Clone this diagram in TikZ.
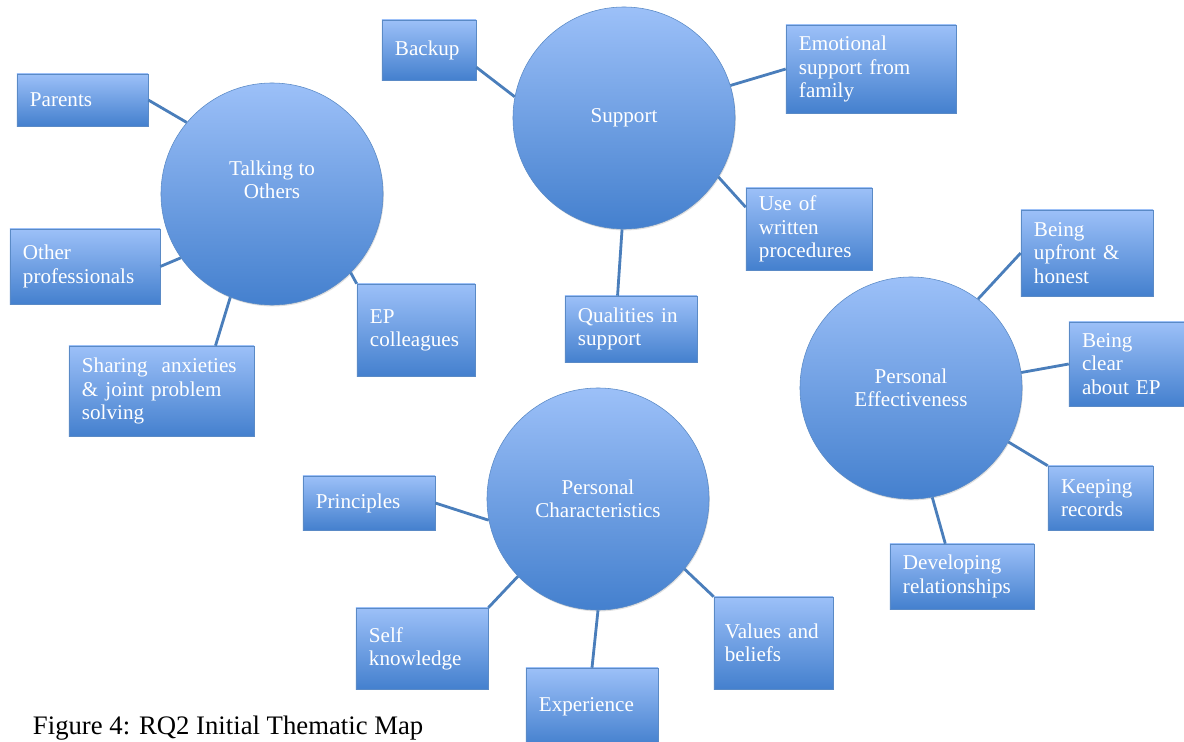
\documentclass[tikz,border=0pt]{standalone}
\usepackage{fontspec}
\setmainfont{Liberation Serif}
\usetikzlibrary{shadows}
\definecolor{mapline}{HTML}{4A7EBB}
\definecolor{shadetop}{HTML}{9CC0F8}
\definecolor{shadebot}{HTML}{4480CE}
\definecolor{rim}{HTML}{5A8AC6}

\begin{document}
\begin{tikzpicture}[x=0.025cm, y=-0.025cm]
\tikzset{edge/.style = {-, line width=2pt, draw=mapline}}
\tikzset{theme/.style = {shape=circle, draw=rim, top color=shadetop, bottom color=shadebot, minimum size=5.55cm, inner sep=0pt, text=white, align=center, font=\fontsize{15}{16.5}\selectfont, drop shadow={opacity=0.25, shadow xshift=0.6pt, shadow yshift=-1pt}}}
\tikzset{subtheme/.style = {shape=rectangle, draw=rim, top color=shadetop, bottom color=shadebot, inner xsep=0.325cm, inner ysep=0pt, text=white, align=left, font=\fontsize{15}{16.5}\selectfont, drop shadow={opacity=0.25, shadow xshift=0.6pt, shadow yshift=-1pt}}}
\useasboundingbox (0,0) rectangle (1184,742);
% themes
\node[theme](talking) at (272,194) {Talking to\\Others\\[4pt]\mbox{}};
\node[theme](support) at (624,118) {Support};
\node[theme](effective) at (911,388) {Personal\\Effectiveness};
\node[theme](character) at (598,499) {Personal\\Characteristics};
% sub-themes
\node[subtheme, minimum width=3.275cm, minimum height=1.3cm, text width=2.625cm](parents) at (82.5,100) {Parents};
\node[subtheme, minimum width=3.75cm, minimum height=1.875cm, text width=3.1cm](otherprof) at (85,266.5) {Other\\professionals};
\node[subtheme, minimum width=4.625cm, minimum height=2.25cm, text width=3.975cm](sharing) at (161.5,391) {Sharing~~anxieties\\\& joint problem\\solving};
\node[subtheme, minimum width=2.95cm, minimum height=2.3cm, text width=2.3cm](epcoll) at (416,330) {EP\\colleagues};
\node[subtheme, minimum width=2.35cm, minimum height=1.5cm, text width=1.7cm](backup) at (429,50) {Backup};
\node[subtheme, minimum width=4.25cm, minimum height=2.2cm, text width=3.6cm](emotional) at (871,69) {Emotional\\support from\\family};
\node[subtheme, minimum width=3.15cm, minimum height=2.05cm, text width=2.5cm](written) at (809,229) {Use of\\written\\procedures};
\node[subtheme, minimum width=3.3cm, minimum height=1.65cm, text width=2.65cm](qualities) at (631,329) {Qualities in\\support};
\node[subtheme, minimum width=3.3cm, minimum height=2.15cm, text width=2.65cm](upfront) at (1087,253) {Being\\upfront \&\\honest};
\node[subtheme, minimum width=3.025cm, minimum height=2.1cm, text width=2.375cm](clear) at (1129.5,364) {Being\\clear\\about EP};
\node[subtheme, minimum width=2.625cm, minimum height=1.6cm, text width=1.975cm](keeping) at (1100.5,498) {Keeping\\records};
\node[subtheme, minimum width=3.6cm, minimum height=1.625cm, text width=2.95cm](developing) at (962,576.5) {Developing\\relationships};
\node[subtheme, minimum width=3.3cm, minimum height=1.35cm, text width=2.65cm](principles) at (369,503) {Principles};
\node[subtheme, minimum width=3.3cm, minimum height=2.025cm, text width=2.65cm](selfknow) at (422,648.5) {Self\\knowledge};
\node[subtheme, minimum width=3.3cm, minimum height=1.95cm, text width=2.65cm](experience) at (592,707) {Experience};
\node[subtheme, inner xsep=0.27cm, minimum width=2.975cm, minimum height=2.3cm, text width=2.43cm](values) at (773.5,643) {Values and\\beliefs};
% caption
\node[anchor=base west, font=\fontsize{19}{22}\selectfont](caption) at (28,734) {Figure 4: RQ2 Initial Thematic Map};
% links
\draw[edge] (parents.east) to (talking.140);
\draw[edge] (otherprof.east) to (talking.215);
\draw[edge] (sharing.40) to (talking.248);
\draw[edge] (epcoll.north west) to (talking.315);
\draw[edge] (backup.340) to (support.169);
\draw[edge] (emotional.west) to (support.17);
\draw[edge] (written.161) to (support.328);
\draw[edge] (qualities.112) to (support.269);
\draw[edge] (upfront.west) to (effective.53);
\draw[edge] (clear.west) to (effective.8);
\draw[edge] (keeping.north west) to (effective.331);
\draw[edge] (developing.117) to (effective.281);
\draw[edge] (principles.east) to (character.191);
\draw[edge] (selfknow.north east) to (character.224);
\draw[edge] (experience.north) to (character.270);
\draw[edge] (values.north west) to (character.321);
\end{tikzpicture}
\end{document}
